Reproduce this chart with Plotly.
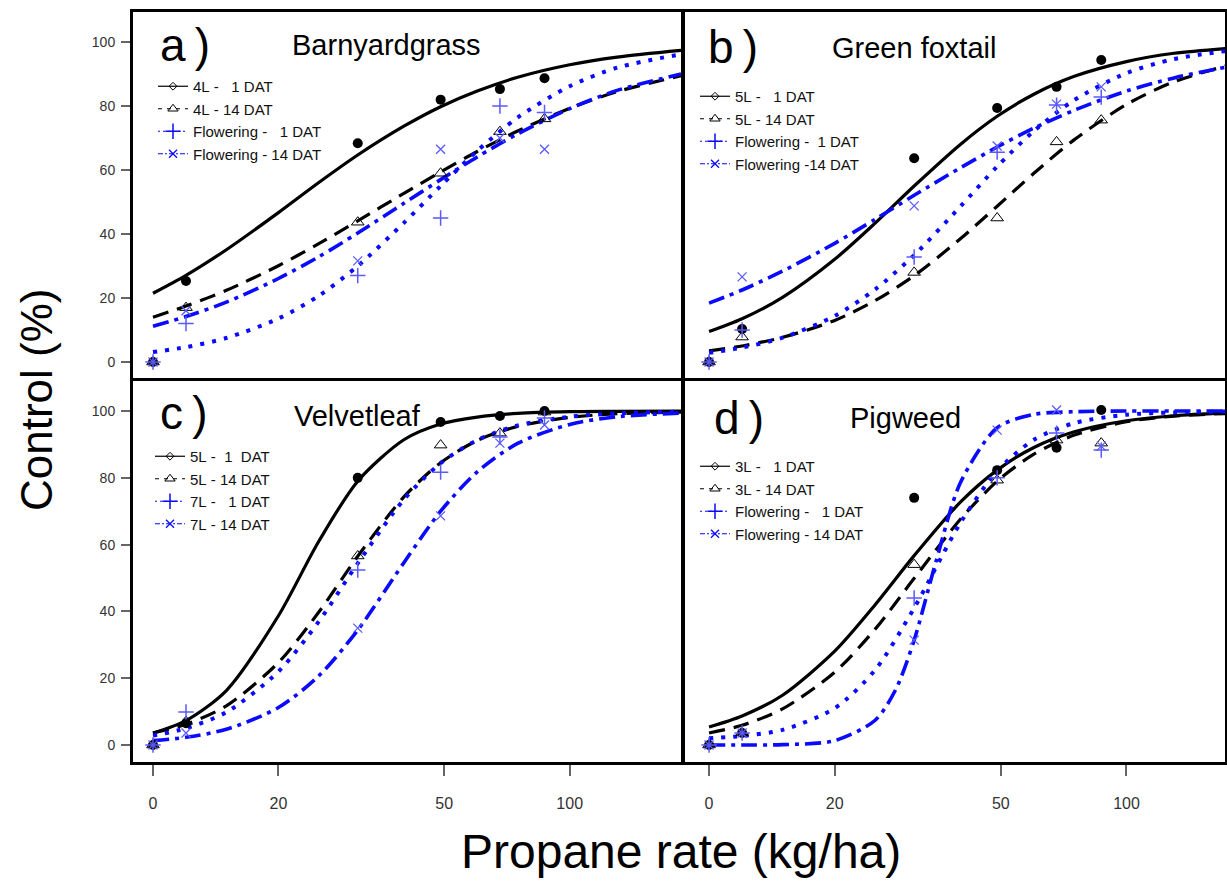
import plotly.graph_objects as go

FONT = "Arial, Liberation Sans, sans-serif"
W, H = 1227, 882

# ---------------- data ----------------
BP = 10  # axis position used for the zero dose (broken log axis)
DOSES = [0, 12, 31, 49, 68, 87]
X_TICK_DOSE = [0, 20, 50, 100]
X_TICK_TEXT = ["0", "20", "50", "100"]
Y_TICKS = [0, 20, 40, 60, 80, 100]

CURVE_DOSE = [10, 12, 15, 20, 25, 31, 40, 49, 60, 75, 100, 130, 185]
CURVE_DOSE_STEEP = [10, 12, 15, 20, 25, 28, 31, 35, 40, 49, 60, 75, 100, 130, 185]

# Panel a - Barnyardgrass
A_TITLE = "Barnyardgrass"
A_NAMES = ["4L -   1 DAT", "4L - 14 DAT", "Flowering -   1 DAT", "Flowering - 14 DAT"]
A_PTS_1 = [0, 25.3, 68.4, 82.0, 85.3, 88.7]
A_PTS_2 = [0, 17.0, 43.7, 59.0, 72.0, 76.0]
A_PTS_3 = [0, 12.0, 27.0, 45.0, 80.0, 78.0]
A_PTS_4 = [0, 16.0, 31.6, 66.5, 70.0, 66.5]
A_CUR_1 = [21.5, 27.1, 35.1, 46.7, 56.1, 64.7, 73.7, 79.8, 84.7, 89.0, 92.9, 95.3, 97.4]
A_CUR_2 = [14.0, 17.5, 22.4, 30.1, 37.0, 44.1, 52.7, 59.4, 65.8, 72.2, 79.3, 84.5, 89.5]
A_CUR_3 = [3.1, 4.65, 7.5, 13.6, 20.7, 30.0, 43.5, 55.0, 66.0, 76.4, 86.2, 92.0, 96.2]
A_CUR_4 = [11.2, 14.2, 18.7, 26.1, 32.9, 40.3, 49.6, 57.0, 64.1, 71.3, 79.2, 84.9, 90.0]

# Panel b - Green foxtail
B_TITLE = "Green foxtail"
B_NAMES = ["5L -   1 DAT", "5L - 14 DAT", "Flowering -  1 DAT", "Flowering -14 DAT"]
B_PTS_1 = [0, 10.3, 63.7, 79.4, 86.0, 94.4]
B_PTS_2 = [0, 7.8, 28.0, 45.0, 68.8, 75.6]
B_PTS_3 = [0, 10.0, 32.8, 65.6, 80.3, 82.8]
B_PTS_4 = [0, 26.6, 48.8, 67.5, 80.6, 86.0]
B_CUR_1 = [9.5, 13.5, 20.2, 32.1, 43.4, 55.0, 68.0, 76.8, 83.7, 89.3, 93.9, 96.5, 98.3]
B_CUR_2 = [3.5, 5.0, 7.7, 13.0, 19.2, 27.0, 38.5, 48.7, 59.0, 69.5, 80.5, 87.6, 93.6]
B_CUR_3 = [2.9, 4.5, 7.6, 14.4, 22.7, 33.4, 48.6, 61.1, 72.2, 81.9, 90.3, 94.7, 97.7]
B_CUR_4 = [18.4, 22.5, 28.4, 37.1, 44.6, 52.1, 60.7, 67.2, 73.1, 78.7, 84.7, 88.8, 92.9]

# Panel c - Velvetleaf
C_TITLE = "Velvetleaf"
C_NAMES = ["5L -  1  DAT", "5L - 14 DAT", "7L -   1 DAT", "7L - 14 DAT"]
C_PTS_1 = [0, 6.5, 80.0, 96.7, 98.5, 100.0]
C_PTS_2 = [0, 7.0, 56.6, 89.8, 93.4, 99.7]
C_PTS_3 = [0, 9.9, 52.4, 81.7, 92.2, 97.9]
C_PTS_4 = [0, 3.6, 35.0, 68.6, 90.4, 95.8]
C_CUR_1 = [3.6, 7.3, 16.3, 38.7, 61.0, 79.0, 91.4, 96.1, 98.2, 99.3, 99.8, 99.9, 100.0]
C_CUR_2 = [3.6, 6.2, 11.7, 24.7, 39.8, 56.5, 74.3, 84.5, 91.2, 95.4, 98.1, 99.2, 99.7]
C_CUR_3 = [2.8, 5.0, 9.8, 22.0, 37.0, 54.4, 73.5, 84.4, 91.3, 95.7, 98.3, 99.3, 99.8]
C_CUR_4 = [1.3, 2.3, 4.7, 11.2, 20.7, 34.4, 54.6, 70.0, 81.8, 90.3, 96.0, 98.3, 99.4]

# Panel d - Pigweed
D_TITLE = "Pigweed"
D_NAMES = ["3L -   1 DAT", "3L - 14 DAT", "Flowering -   1 DAT", "Flowering - 14 DAT"]
D_PTS_1 = [0, 3.6, 74.0, 82.3, 89.0, 100.3]
D_PTS_2 = [0, 3.6, 54.0, 79.3, 91.3, 90.4]
D_PTS_3 = [0, 3.6, 44.0, 80.0, 93.4, 88.3]
D_PTS_4 = [0, 3.6, 31.4, 94.3, 100.3, 89.5]
D_CUR_1 = [5.4, 8.7, 14.9, 28.1, 42.0, 56.7, 72.7, 82.3, 89.1, 93.8, 97.1, 98.6, 99.5]
D_CUR_2 = [3.6, 5.9, 10.8, 21.8, 34.7, 49.9, 67.6, 79.0, 87.1, 92.8, 96.8, 98.5, 99.4]
D_CUR_3 = [2.0, 2.7, 4.5, 11.0, 22.5, 41.0, 66.5, 82.0, 91.4, 96.4, 98.9, 99.6, 99.9]
D_CUR_4 = [0.0, 0.0, 0.1, 1.3, 7.4, 16.6, 31.4, 55.1, 78.5, 95.0, 99.0, 99.8, 100.0, 100.0, 100.0]

# ---------------- styles ----------------
BLACK = "#000000"
BLUE = "#0a0aff"
LBLUE = "#5a5aff"
LINE_STYLES = [
    dict(color=BLACK, dash="solid", width=3.2),
    dict(color=BLACK, dash="16px,9px", width=3.2),
    dict(color=BLUE, dash="4px,8px", width=4),
    dict(color=BLUE, dash="16px,6px,4px,6px", width=3.6),
]
LEGEND_LINES = [
    dict(color=BLACK, dash="solid", width=1.2),
    dict(color=BLACK, dash="4px,5px", width=1.2),
    dict(color=BLUE, dash="2px,3px", width=1.2),
    dict(color=BLUE, dash="5px,2px,2px,2px", width=1.2),
]
MARKERS = [
    dict(symbol="circle", size=10, color=BLACK, line=dict(width=0)),
    dict(symbol="triangle-up-open", size=11, color=BLACK, line=dict(width=1, color=BLACK)),
    dict(symbol="cross-thin-open", size=11, color=LBLUE, line=dict(width=1.5, color=LBLUE)),
    dict(symbol="x-thin-open", size=9, color=LBLUE, line=dict(width=1.3, color=LBLUE)),
]
LEGEND_MARKERS = [
    dict(symbol="diamond-open", size=6, color=BLACK, line=dict(width=1, color=BLACK)),
    dict(symbol="triangle-up-open", size=9, color=BLACK, line=dict(width=1, color=BLACK)),
    dict(symbol="cross-thin-open", size=11, color=BLUE, line=dict(width=1.5, color=BLUE)),
    dict(symbol="x-thin-open", size=8, color=BLUE, line=dict(width=1.3, color=BLUE)),
]

panels = [
    ("x", "y", "legend", A_TITLE, A_NAMES, [A_PTS_1, A_PTS_2, A_PTS_3, A_PTS_4],
     [A_CUR_1, A_CUR_2, A_CUR_3, A_CUR_4], [CURVE_DOSE] * 4),
    ("x2", "y2", "legend2", B_TITLE, B_NAMES, [B_PTS_1, B_PTS_2, B_PTS_3, B_PTS_4],
     [B_CUR_1, B_CUR_2, B_CUR_3, B_CUR_4], [CURVE_DOSE] * 4),
    ("x3", "y3", "legend3", C_TITLE, C_NAMES, [C_PTS_1, C_PTS_2, C_PTS_3, C_PTS_4],
     [C_CUR_1, C_CUR_2, C_CUR_3, C_CUR_4], [CURVE_DOSE] * 4),
    ("x4", "y4", "legend4", D_TITLE, D_NAMES, [D_PTS_1, D_PTS_2, D_PTS_3, D_PTS_4],
     [D_CUR_1, D_CUR_2, D_CUR_3, D_CUR_4], [CURVE_DOSE] * 3 + [CURVE_DOSE_STEEP]),
]

dose_pos = [BP if d == 0 else d for d in DOSES]
tick_pos = [BP if d == 0 else d for d in X_TICK_DOSE]

fig = go.Figure()
for xa, ya, lg, title, names, pts, curves, cdoses in panels:
    for i in range(4):
        fig.add_trace(go.Scatter(
            x=cdoses[i], y=curves[i], mode="lines", xaxis=xa, yaxis=ya,
            line=dict(shape="spline", smoothing=0.8, **LINE_STYLES[i]),
            showlegend=False, hoverinfo="skip"))
    for i in range(4):
        fig.add_trace(go.Scatter(
            x=dose_pos, y=pts[i], mode="markers", xaxis=xa, yaxis=ya,
            marker=MARKERS[i], showlegend=False))
    for i in range(4):
        fig.add_trace(go.Scatter(
            x=[None], y=[None], mode="lines+markers", xaxis=xa, yaxis=ya,
            name=names[i].replace(" ", "\u00a0"), legend=lg,
            line=LEGEND_LINES[i], marker=LEGEND_MARKERS[i]))

def px_x(p):
    return p / W

def px_y(p):
    return 1 - p / H

XL = [px_x(133), px_x(682)]
XR = [px_x(684), px_x(1225)]
YT = [px_y(378), px_y(12)]
YB = [px_y(762), px_y(381)]

axis_common = dict(showline=True, mirror=True, linewidth=3, linecolor="black",
                   showgrid=False, zeroline=False)

def xaxis(domain, anchor, rng, show):
    d = dict(axis_common, domain=domain, anchor=anchor, type="log", range=rng,
             tickvals=tick_pos, ticktext=X_TICK_TEXT)
    if show:
        d.update(ticks="outside", ticklen=11, tickwidth=1.5, tickcolor="#666",
                 tickfont=dict(size=16, color="#333", family=FONT),
                 ticklabelstandoff=14)
    else:
        d.update(ticks="", showticklabels=False)
    return d

def yaxis(domain, anchor, rng, show):
    d = dict(axis_common, domain=domain, anchor=anchor, range=rng, tickvals=Y_TICKS)
    if show:
        d.update(ticks="outside", ticklen=9, tickwidth=1.5, tickcolor="#666",
                 tickfont=dict(size=14, color="#333", family=FONT), ticklabelstandoff=3)
    else:
        d.update(ticks="", showticklabels=False)
    return d

LX = [0.952, 2.2695]
RX = [0.940, 2.236]
TY = [-5, 109.4]
BY = [-5.1, 109.0]

def legend_cfg(xp, yp):
    return dict(x=px_x(xp), y=px_y(yp), xanchor="left", yanchor="top",
                bgcolor="rgba(0,0,0,0)", borderwidth=0, tracegroupgap=0,
                itemwidth=30, font=dict(size=15, family=FONT, color="#111"))

fig.update_layout(
    width=W, height=H, margin=dict(l=0, r=0, t=0, b=0),
    paper_bgcolor="white", plot_bgcolor="white",
    font=dict(family=FONT, color="black"),
    xaxis=xaxis(XL, "y", LX, False), yaxis=yaxis(YT, "x", TY, True),
    xaxis2=xaxis(XR, "y2", RX, False), yaxis2=yaxis(YT, "x2", TY, False),
    xaxis3=xaxis(XL, "y3", LX, True), yaxis3=yaxis(YB, "x3", BY, True),
    xaxis4=xaxis(XR, "y4", RX, True), yaxis4=yaxis(YB, "x4", BY, False),
    legend=legend_cfg(153, 70),
    legend2=legend_cfg(695, 80),
    legend3=legend_cfg(150, 440),
    legend4=legend_cfg(695, 450),
    showlegend=True,
)

ann = []
for letter, xp, yp in [("a\u2009)", 158, 45), ("b\u2009)", 706, 47), ("c\u2009)", 158, 413), ("d\u2009)", 712, 418)]:
    ann.append(dict(text=letter, x=px_x(xp), y=px_y(yp), xref="paper", yref="paper",
                    xanchor="left", yanchor="middle", showarrow=False,
                    font=dict(size=46, family=FONT, color="black")))
for t, xp, yp in [(A_TITLE, 290, 45), (B_TITLE, 830, 48), (C_TITLE, 292, 416), (D_TITLE, 848, 418)]:
    ann.append(dict(text=t, x=px_x(xp), y=px_y(yp), xref="paper", yref="paper",
                    xanchor="left", yanchor="middle", showarrow=False,
                    font=dict(size=29, family=FONT, color="black")))
ann.append(dict(text="Control (%)", x=px_x(36), y=px_y(400), xref="paper", yref="paper",
                textangle=-90, showarrow=False, xanchor="center", yanchor="middle",
                font=dict(size=44, family=FONT, color="black")))
ann.append(dict(text="Propane rate (kg/ha)", x=px_x(681), y=px_y(851), xref="paper",
                yref="paper", showarrow=False, xanchor="center", yanchor="middle",
                font=dict(size=48, family=FONT, color="black")))
fig.update_layout(annotations=ann)

fig.write_html("out.html", config={"displayModeBar": False},
               post_script="document.body.style.margin='0px';document.body.style.padding='0px';")
